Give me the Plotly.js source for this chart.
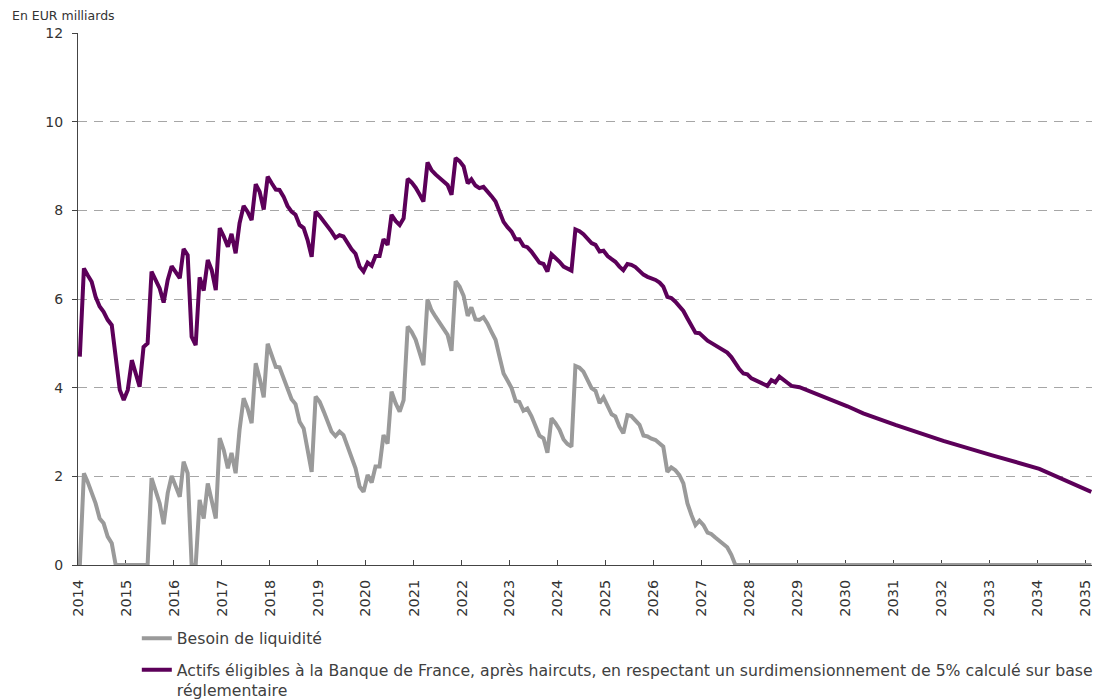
<!DOCTYPE html>
<html>
<head>
<meta charset="utf-8">
<script src="https://cdn.plot.ly/plotly-3.0.1.min.js"></script>
<style>
  html, body { margin: 0; padding: 0; background: #fff; }
  #chart { width: 1102px; height: 700px; }
</style>
</head>
<body>
<div id="chart"></div>
<script>
// Monthly series start: January 2014
const startYear = 2014;

// Besoin de liquidité (EUR bn), monthly from Jan 2014 to Sep 2027
const besoinValues = [
  0.00, 2.07, 1.88, 1.65, 1.39, 1.05, 0.94, 0.64, 0.49, 0.00,
  0.00, 0.00, 0.00, 0.00, 0.00, 0.00, 0.00, 0.00, 1.96, 1.69,
  1.39, 0.92, 1.62, 2.01, 1.78, 1.54, 2.33, 2.07, 0.00, 0.00,
  1.47, 1.05, 1.84, 1.47, 1.05, 2.86, 2.59, 2.18, 2.53, 2.07,
  3.05, 3.76, 3.53, 3.20, 4.55, 4.21, 3.78, 4.99, 4.70, 4.47,
  4.46, 4.21, 3.95, 3.74, 3.63, 3.23, 3.08, 2.59, 2.10, 3.80,
  3.68, 3.46, 3.23, 3.01, 2.91, 3.01, 2.93, 2.67, 2.41, 2.18,
  1.77, 1.65, 2.03, 1.86, 2.22, 2.22, 2.93, 2.74, 3.91, 3.65,
  3.46, 3.72, 5.38, 5.26, 5.08, 4.78, 4.51, 5.99, 5.75, 5.60,
  5.47, 5.36, 5.19, 4.83, 6.40, 6.28, 6.07, 5.62, 5.81, 5.54,
  5.53, 5.59, 5.45, 5.26, 5.08, 4.70, 4.32, 4.16, 3.99, 3.70,
  3.68, 3.48, 3.53, 3.36, 3.16, 2.92, 2.86, 2.53, 3.31, 3.20,
  3.05, 2.83, 2.73, 2.67, 4.49, 4.45, 4.36, 4.16, 3.99, 3.93,
  3.65, 3.78, 3.61, 3.40, 3.35, 3.12, 2.97, 3.38, 3.36, 3.27,
  3.16, 2.92, 2.90, 2.85, 2.82, 2.74, 2.67, 2.10, 2.20, 2.14,
  2.03, 1.84, 1.39, 1.13, 0.90, 1.00, 0.90, 0.73, 0.70, 0.62,
  0.55, 0.49, 0.40, 0.23, 0.00
];
// after Sep 2027 the need stays at zero
const besoinTailDates = ['2035-02-15'];
const besoinTailValues = [0.00];

// Actifs éligibles (EUR bn), monthly from Jan 2014 to Jan 2029
const actifsValues = [
  4.70, 6.69, 6.54, 6.39, 6.05, 5.83, 5.71, 5.53, 5.41, 4.70,
  3.95, 3.72, 3.95, 4.62, 4.32, 4.02, 4.92, 5.00, 6.62, 6.43,
  6.24, 5.92, 6.43, 6.74, 6.62, 6.47, 7.13, 6.99, 5.15, 4.96,
  6.49, 6.19, 6.88, 6.65, 6.20, 7.60, 7.41, 7.18, 7.47, 7.03,
  7.71, 8.10, 7.97, 7.78, 8.59, 8.42, 8.02, 8.76, 8.61, 8.47,
  8.46, 8.31, 8.10, 7.97, 7.90, 7.67, 7.60, 7.33, 6.95, 7.97,
  7.87, 7.76, 7.65, 7.52, 7.38, 7.44, 7.41, 7.26, 7.12, 7.02,
  6.73, 6.62, 6.82, 6.75, 6.97, 6.97, 7.35, 7.22, 7.90, 7.76,
  7.67, 7.82, 8.71, 8.63, 8.51, 8.35, 8.20, 9.08, 8.91, 8.81,
  8.74, 8.67, 8.57, 8.35, 9.18, 9.11, 8.99, 8.61, 8.70, 8.56,
  8.50, 8.53, 8.44, 8.32, 8.20, 7.97, 7.74, 7.62, 7.52, 7.35,
  7.35, 7.20, 7.17, 7.07, 6.95, 6.82, 6.79, 6.62, 7.01, 6.94,
  6.84, 6.73, 6.68, 6.64, 7.57, 7.53, 7.46, 7.35, 7.26, 7.22,
  7.07, 7.09, 6.97, 6.90, 6.84, 6.73, 6.65, 6.79, 6.77, 6.72,
  6.64, 6.55, 6.50, 6.47, 6.43, 6.37, 6.28, 6.05, 6.02, 5.94,
  5.84, 5.73, 5.56, 5.39, 5.24, 5.23, 5.14, 5.06, 5.01, 4.96,
  4.90, 4.85, 4.79, 4.69, 4.55, 4.42, 4.32, 4.30, 4.21, 4.16,
  4.12, 4.08, 4.04, 4.17, 4.12, 4.25, 4.19, 4.11, 4.04, 4.02,
  4.01
];
const actifsTailDates = ['2030-01-15', '2030-05-15', '2031-01-15', '2032-01-15', '2033-01-15', '2034-01-15', '2035-02-15'];
const actifsTailValues = [3.58, 3.42, 3.16, 2.80, 2.48, 2.17, 1.65];

const yTickVals = [0, 2, 4, 6, 8, 10, 12];
const yTickText = ['0', '2', '4', '6', '8', '10', '12'];

const nameBesoin = 'Besoin de liquidité';
const nameActifs = 'Actifs éligibles à la Banque de France, après haircuts, en respectant un surdimensionnement de 5% calculé sur base<br>réglementaire';

function monthDates(n) {
  const out = [];
  for (let i = 0; i < n; i++) {
    const y = startYear + Math.floor(i / 12);
    const m = (i % 12) + 1;
    out.push(y + '-' + String(m).padStart(2, '0') + '-15');
  }
  return out;
}

const besoinX = monthDates(besoinValues.length).concat(besoinTailDates);
const besoinY = besoinValues.concat(besoinTailValues);
const actifsX = monthDates(actifsValues.length).concat(actifsTailDates);
const actifsY = actifsValues.concat(actifsTailValues);

const FONT = 'DejaVu Sans, Verdana, sans-serif';

const traces = [
  {
    x: besoinX, y: besoinY, type: 'scatter', mode: 'lines', name: nameBesoin,
    line: { color: '#9a9a9a', width: 4 }, legendgroup: 'a'
  },
  {
    x: actifsX, y: actifsY, type: 'scatter', mode: 'lines', name: nameActifs,
    line: { color: '#5c0059', width: 4 }, legendgroup: 'b'
  }
];

const layout = {
  width: 1102, height: 700,
  margin: { l: 78, r: 10, t: 33, b: 135, autoexpand: false },
  paper_bgcolor: '#ffffff', plot_bgcolor: '#ffffff',
  font: { family: FONT, size: 14, color: '#333333' },
  showlegend: true,
  legend: {
    orientation: 'v', x: 0.058, xanchor: 'left',
    yref: 'container', y: 0.112, yanchor: 'top',
    font: { family: FONT, size: 15.7, color: '#404040' },
    valign: 'top', traceorder: 'grouped', tracegroupgap: 8,
    bgcolor: 'rgba(0,0,0,0)'
  },
  xaxis: {
    type: 'date',
    range: ['2014-01-01', '2035-02-20'],
    tick0: '2014-01-01', dtick: 'M12', tickformat: '%Y',
    tickangle: -90,
    ticks: 'inside', ticklen: 5, tickcolor: '#444',
    showline: true, linecolor: '#444', linewidth: 1,
    showgrid: false, zeroline: false,
    automargin: false,
    ticklabelstandoff: 8,
    tickfont: { family: FONT, size: 14.5, color: '#333' },
    layer: 'below traces'
  },
  yaxis: {
    range: [0, 12],
    tickvals: yTickVals, ticktext: yTickText,
    ticks: 'outside', ticklen: 5, tickcolor: '#444',
    showline: true, linecolor: '#444', linewidth: 1,
    showgrid: true, gridcolor: '#a6a6a6', gridwidth: 1, griddash: '9px,7px',
    zeroline: false,
    automargin: false,
    ticklabelstandoff: 6,
    tickfont: { family: FONT, size: 14, color: '#333' },
    layer: 'below traces'
  },
  annotations: [
    {
      text: 'En EUR milliards', xref: 'paper', yref: 'paper',
      x: -0.067, y: 1.0, xanchor: 'left', yanchor: 'bottom', yshift: 8,
      showarrow: false, font: { family: FONT, size: 12.5, color: '#333' }
    }
  ]
};

Plotly.newPlot('chart', traces, layout, { displayModeBar: false, staticPlot: true });
</script>
</body>
</html>
